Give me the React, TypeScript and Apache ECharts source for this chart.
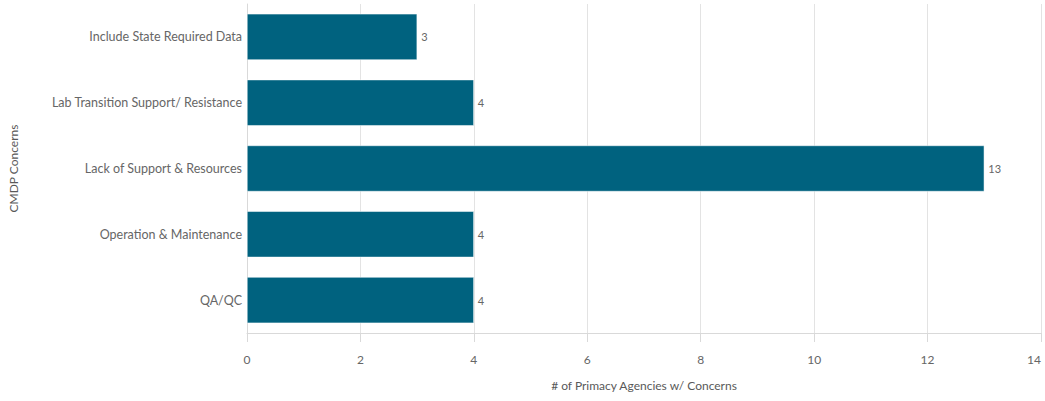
import React, { useEffect, useRef } from "react";
import * as echarts from "echarts";

const categories = [
  "Include State Required Data",
  "Lab Transition Support/ Resistance",
  "Lack of Support & Resources",
  "Operation & Maintenance",
  "QA/QC",
];
const values = [3, 4, 13, 4, 4];

export default function App() {
  const ref = useRef<HTMLDivElement>(null);
  useEffect(() => {
    if (!ref.current) return;
    const chart = echarts.init(ref.current, undefined, { renderer: "svg" });
    const font = "Lato, 'Source Sans Pro', sans-serif";
    chart.setOption({
      animation: false,
      textStyle: { fontFamily: font },
      grid: { left: 247, right: 4, top: 4, bottom: 68, containLabel: false, outerBoundsMode: "none" },
      xAxis: {
        type: "value",
        min: 0,
        max: 14,
        interval: 2,
        name: "# of Primacy Agencies w/ Concerns",
        nameLocation: "middle",
        nameGap: 46,
        nameTextStyle: { color: "#595959", fontSize: 12, fontFamily: font },
        axisLine: { show: true, lineStyle: { color: "#d9d9d9" } },
        axisTick: { show: true, length: 9, lineStyle: { color: "#d9d9d9" } },
        axisLabel: { color: "#666", fontSize: 12, margin: 20, fontFamily: font, alignMaxLabel: "right" },
        splitLine: { show: true, lineStyle: { color: "#e3e3e3" } },
      },
      yAxis: {
        type: "category",
        inverse: true,
        data: categories,
        name: "CMDP Concerns",
        nameLocation: "middle",
        nameGap: 228,
        nameTextStyle: { color: "#595959", fontSize: 12, fontFamily: font },
        axisLine: { show: true, lineStyle: { color: "#d9d9d9" } },
        axisTick: { show: false },
        axisLabel: { color: "#666", fontSize: 12.5, margin: 5, fontFamily: font },
      },
      series: [
        {
          type: "bar",
          data: values,
          barWidth: "70%",
          itemStyle: { color: "#00627f", borderColor: "#ffffff", borderWidth: 0.5 },
          label: { show: true, position: "right", distance: 4, color: "#666", fontSize: 11, fontFamily: font },
        },
      ],
    });
    return () => chart.dispose();
  }, []);
  return <div ref={ref} style={{ width: 1045, height: 401, position: "absolute", left: 0, top: 0 }} />;
}
